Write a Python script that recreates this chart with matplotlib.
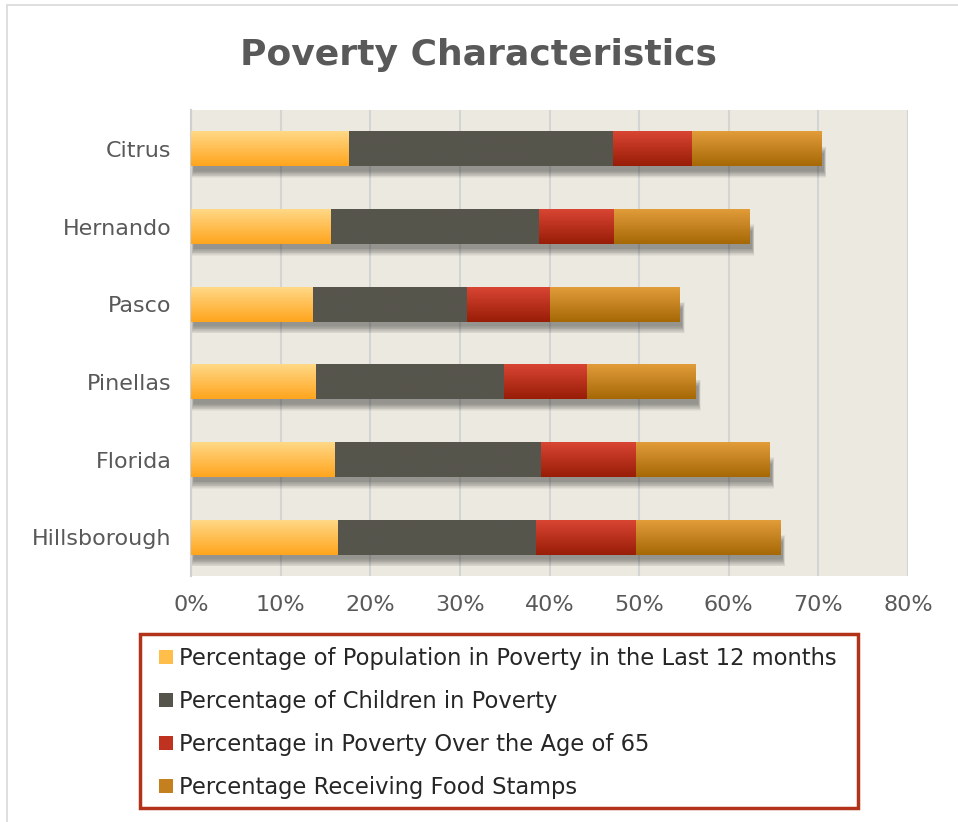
import numpy as np
import matplotlib
matplotlib.use("Agg")
import matplotlib.pyplot as plt
from matplotlib.colors import LinearSegmentedColormap
from matplotlib.patches import Rectangle, Patch

categories = ["Citrus", "Hernando", "Pasco", "Pinellas", "Florida", "Hillsborough"]
series_names = [
    "Percentage of Population in Poverty in the Last 12 months",
    "Percentage of Children in Poverty",
    "Percentage in Poverty Over the Age of 65",
    "Percentage Receiving Food Stamps",
]
pop_poverty = [17.6, 15.6, 13.6, 14.0, 16.1, 16.4]
children_poverty = [29.5, 23.2, 17.2, 20.9, 23.0, 22.1]
over65_poverty = [8.8, 8.4, 9.3, 9.3, 10.5, 11.1]
food_stamps = [14.4, 15.1, 14.4, 12.1, 14.9, 16.1]
x_ticks = [0, 10, 20, 30, 40, 50, 60, 70, 80]
x_tick_labels = ["0%", "10%", "20%", "30%", "40%", "50%", "60%", "70%", "80%"]

series = [pop_poverty, children_poverty, over65_poverty, food_stamps]
grad_colors = [("#FFD886", "#FFA51E"), ("#56554C", "#56554C"),
               ("#D94533", "#981D07"), ("#E29C3A", "#A66806")]
legend_colors = ["#FFBE4A", "#56554C", "#BF3220", "#C4801E"]

W, H = 958, 822
fig = plt.figure(figsize=(W / 100, H / 100), dpi=100)
fig.patch.set_facecolor("white")

# outer chart frame
fig.add_artist(Rectangle((7 / W, -0.1), 1.2, 1 - 5 / H + 0.1, transform=fig.transFigure,
                         fill=False, edgecolor="#D9D9D9", linewidth=1.2))

ax = fig.add_axes([191 / W, 1 - 576 / H, (908 - 191) / W, (576 - 110) / H])
ax.set_facecolor("#ECEAE0")

n = len(categories)
ypos = np.arange(n)[::-1]
h = 0.45

lefts = np.zeros(n)
for si, vals in enumerate(series):
    vals = np.array(vals, dtype=float)
    ax.barh(ypos, vals, left=lefts, height=h, color=legend_colors[si], zorder=3, linewidth=0)
    cmap = LinearSegmentedColormap.from_list("g%d" % si, grad_colors[si])
    grad = np.linspace(0, 1, 64).reshape(-1, 1)
    for yi, l, v in zip(ypos, lefts, vals):
        ax.imshow(grad, extent=(l, l + v, yi - h / 2, yi + h / 2), origin="upper",
                  cmap=cmap, aspect="auto", zorder=4, interpolation="bilinear")
    lefts = lefts + vals

# soft shadows under the bars
totals = lefts
for yi, t in zip(ypos, totals):
    for k in range(10):
        e = 0.01 * k
        ax.add_patch(Rectangle((0.3 - e * 3, yi - h / 2 - 0.06 - e), t + e * 6, h * 0.5 + 2 * e,
                               facecolor="#202020", alpha=0.05, linewidth=0, zorder=2))

ax.set_xlim(0, 80)
ax.set_ylim(-0.5, n - 0.5)
ax.set_yticks(ypos)
ax.set_yticklabels(categories)
ax.set_xticks(x_ticks)
ax.set_xticklabels(x_tick_labels)
ax.xaxis.grid(True, color="#D4D4D4", linewidth=1.5, zorder=1)
ax.set_axisbelow(True)
for s in ["top", "right", "bottom"]:
    ax.spines[s].set_visible(False)
ax.spines["left"].set_color("#D0D0D0")
ax.spines["left"].set_linewidth(1.5)
ax.tick_params(axis="both", length=0, labelsize=16, labelcolor="#595959")
ax.tick_params(axis="y", pad=14)
ax.tick_params(axis="x", pad=14)

fig.text(0.5, 1 - 55 / H, "Poverty Characteristics", ha="center", va="center",
         fontsize=26, fontweight="bold", color="#595959")

# legend frame
fig.add_artist(Rectangle((140 / W, 1 - 808 / H), (858 - 140) / W, (808 - 634) / H,
                         transform=fig.transFigure, fill=False, edgecolor="#B3331A",
                         linewidth=2.5))
handles = [Patch(facecolor=c, edgecolor="none") for c in legend_colors]
leg = fig.legend(handles, series_names, loc="upper left",
                 bbox_to_anchor=(159 / W, 1 - 647 / H), frameon=False, fontsize=16.3,
                 handlelength=0.6, handleheight=0.6, handletextpad=0.3,
                 labelspacing=0.88, borderpad=0.0, borderaxespad=0.0)
for t in leg.get_texts():
    t.set_color("#262626")

fig.savefig("out.png", dpi=100)
